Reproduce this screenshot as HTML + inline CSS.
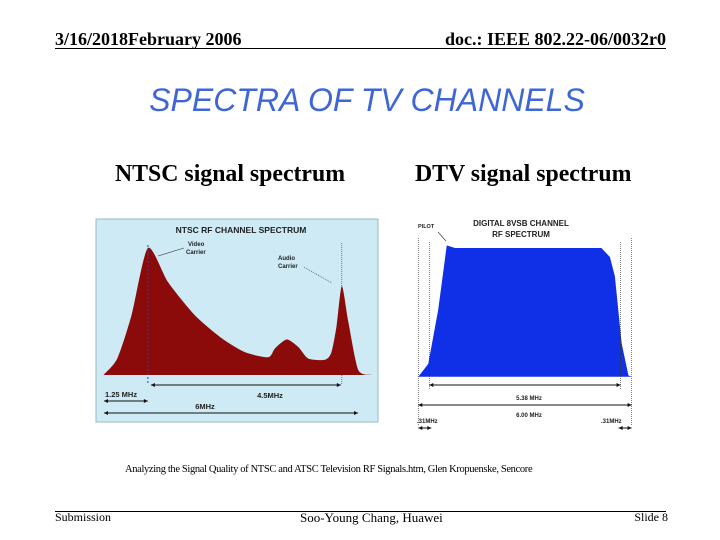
<!DOCTYPE html>
<html><head><meta charset="utf-8">
<style>
body{margin:0;background:#fff;}
#slide{position:relative;width:720px;height:540px;overflow:hidden;background:#fff;font-family:"Liberation Serif",serif;}
.t{position:absolute;white-space:nowrap;}
</style></head>
<body>
<div id="slide">
<div class="t" style="left:55px;top:29px;font-weight:bold;font-size:18px;">3/16/2018February 2006</div>
<div class="t" style="right:54px;top:29px;font-weight:bold;font-size:18px;">doc.: IEEE 802.22-06/0032r0</div>
<div style="position:absolute;left:55px;top:48px;width:611px;height:1px;background:#000;"></div>
<div class="t" style="left:0;width:734px;text-align:center;top:82px;font-family:'Liberation Sans',sans-serif;font-style:italic;font-size:32px;color:#3f66d6;">SPECTRA OF TV CHANNELS</div>
<div class="t" style="left:115px;top:161px;font-size:23.8px;font-weight:bold;">NTSC signal spectrum</div>
<div class="t" style="left:415px;top:161px;font-size:23.8px;font-weight:bold;">DTV signal spectrum</div>
<svg id="chart" width="720" height="540" style="position:absolute;left:0;top:0"></svg>
<div class="t" style="left:125px;top:464px;font-size:10.5px;letter-spacing:-0.35px;">Analyzing the Signal Quality of NTSC and ATSC Television RF Signals.htm, Glen Kropuenske, Sencore</div>
<div style="position:absolute;left:55px;top:511px;width:611px;height:1px;background:#000;"></div>
<div class="t" style="left:55px;top:510px;font-size:12px;">Submission</div>
<div class="t" style="left:300px;top:510px;font-size:13px;">Soo-Young Chang, Huawei</div>
<div class="t" style="right:52px;top:510px;font-size:12px;">Slide 8</div>
</div>
<script>
const ntscFreq=[0.22,0.54,0.87,1.25,1.72,2.34,2.96,3.50,4.04,4.20,4.47,4.74,4.97,5.36,5.51,5.63,5.75,5.90,6.13,6.44];
const ntscAmp=[0,0.13,0.47,1.0,0.73,0.47,0.29,0.18,0.14,0.21,0.28,0.22,0.13,0.12,0.18,0.39,0.70,0.42,0.04,0];
const dtvFreq=[0,0.28,0.56,0.80,1.03,5.15,5.39,5.53,5.72,5.91,6.0];
const dtvAmp=[0,0.10,0.52,1.02,1.0,1.0,0.93,0.78,0.26,0.01,0];
const NS="http://www.w3.org/2000/svg";
const svg=document.getElementById('chart');
function mk(tag,attrs,parent){const e=document.createElementNS(NS,tag);for(const k in attrs)e.setAttribute(k,attrs[k]);(parent||svg).appendChild(e);return e;}
const nx=f=>94+f*43.1, ny=a=>375-a*127;
const dx=f=>418.3+f*35.55, dy=a=>376.7-a*128.7;
function smooth(xs,ys){let d='M'+xs[0]+','+ys[0];for(let i=0;i<xs.length-1;i++){const x0=xs[Math.max(i-1,0)],y0=ys[Math.max(i-1,0)],x1=xs[i],y1=ys[i],x2=xs[i+1],y2=ys[i+1],x3=xs[Math.min(i+2,xs.length-1)],y3=ys[Math.min(i+2,xs.length-1)];const t=0.12;d+=` C${x1+(x2-x0)*t},${y1+(y2-y0)*t} ${x2-(x3-x1)*t},${y2-(y3-y1)*t} ${x2},${y2}`;}return d;}
let g=mk('g',{});


let bg=mk('rect',{x:96,y:219,width:282,height:203,fill:'#cdeaf5',stroke:'#9bb',"stroke-width":1},g);


let p=mk('path',{d:smooth(ntscFreq.map(nx),ntscAmp.map(ny))+'Z',fill:'#8b0a0a'},g);


function txt(x,y,s,size,parent,anchor,name){const t=mk('text',{x,y,"font-family":"Liberation Sans,sans-serif","font-size":size,"font-weight":"bold","text-anchor":anchor||'start',fill:'#222'},parent);t.textContent=s;return t;}
txt(241,233,'NTSC RF CHANNEL SPECTRUM',8.5,g,'middle','ntsc-chart-title');
txt(188,246,'Video',6,g,'start','video-carrier-label');
txt(186,254,'Carrier',6,g,'start','video-carrier-label-2');
txt(278,260,'Audio',6,g,'start','audio-carrier-label');
txt(278,268,'Carrier',6,g,'start','audio-carrier-label-2');
mk('line',{x1:158,y1:256,x2:184,y2:248,stroke:'#333',"stroke-width":0.6},g);
mk('line',{x1:304,y1:267,x2:332,y2:283,stroke:'#333',"stroke-width":0.6,"stroke-dasharray":"1,1"},g);
mk('line',{x1:nx(1.25),y1:245,x2:nx(1.25),y2:385,stroke:'#2244cc',"stroke-dasharray":"2,2"},g);
mk('line',{x1:nx(5.75),y1:243,x2:nx(5.75),y2:385,stroke:'#333',"stroke-width":0.6,"stroke-dasharray":"1,1"},g);
function arrow(x1,x2,y,parent,name){const l=mk('line',{x1,y1:y,x2,y2:y,stroke:'#111',"stroke-width":1},parent);mk('path',{d:`M${x1},${y}l4,-2v4z M${x2},${y}l-4,-2v4z`,fill:'#111'},parent);}
arrow(nx(1.25)+3,nx(5.75)-1,385,g,'arrow-4-5mhz');
txt(270,398,'4.5MHz',7.5,g,'middle','label-4-5mhz');
txt(105,397,'1.25 MHz',7.5,g,'start','label-1-25mhz');
arrow(104,nx(1.25),401,g,'arrow-1-25mhz');
txt(205,409,'6MHz',7.5,g,'middle','label-6mhz');
arrow(104,358,413,g,'arrow-6mhz');
let g2=mk('g',{});


let lin=dtvFreq.map((f,i)=>(i?'L':'M')+dx(f)+','+dy(dtvAmp[i])).join(' ')+'Z';
let p2=mk('path',{d:lin,fill:'#1030e8'},g2);


txt(521,226,'DIGITAL 8VSB CHANNEL',8,g2,'middle','dtv-chart-title');
txt(521,237,'RF SPECTRUM',8,g2,'middle','dtv-chart-title-2');
txt(418,228,'PILOT',5.5,g2,'start','pilot-label');
mk('line',{x1:438,y1:232,x2:446,y2:241,stroke:'#333',"stroke-width":0.6},g2);
[0,6].forEach(f=>mk('line',{x1:dx(f),y1:238,x2:dx(f),y2:425,stroke:'#333',"stroke-width":0.6,"stroke-dasharray":"1,1"},g2));
[0.31,5.69].forEach(f=>mk('line',{x1:dx(f),y1:242,x2:dx(f),y2:390,stroke:'#333',"stroke-width":0.6,"stroke-dasharray":"1,1"},g2));
arrow(dx(0.31),dx(5.69),385,g2,'arrow-5-38mhz');
txt(529,400,'5.38 MHz',6,g2,'middle','label-5-38mhz');
arrow(dx(0),dx(6),405,g2,'arrow-6-00mhz');
txt(529,417,'6.00 MHz',6,g2,'middle','label-6-00mhz');
txt(417,423,'.31MHz',6,g2,'start','label-31mhz-left');
txt(601,423,'.31MHz',6,g2,'start','label-31mhz-right');
arrow(dx(0),dx(0.31)+2,428,g2,'arrow-31mhz-left');
arrow(dx(5.69)-2,dx(6),428,g2,'arrow-31mhz-right');
</script>
</body></html>
